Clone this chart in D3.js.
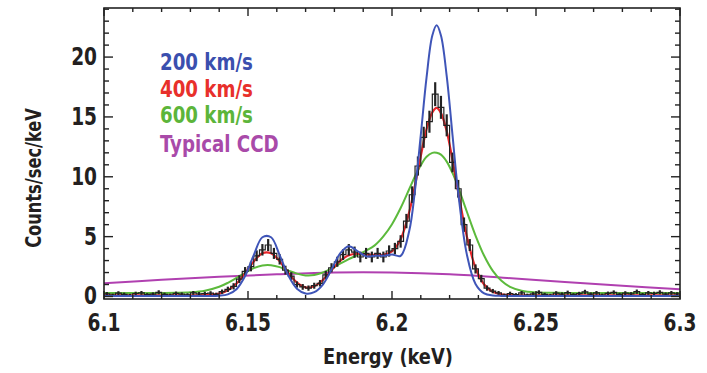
<!DOCTYPE html>
<html>
<head>
<meta charset="utf-8">
<script src="https://cdn.jsdelivr.net/npm/d3@7"></script>
<style>
  body { margin: 0; background: #fff; }
  text { font-family: "Liberation Sans Narrow", "DejaVu Sans Condensed", sans-serif; font-weight: bold; }
</style>
</head>
<body>
<svg id="chart" width="707" height="373"></svg>
<script>
// model curves, sampled on a shared energy grid (keV)
const energyGrid = [6.100, 6.110, 6.120, 6.125, 6.130, 6.135, 6.140, 6.143, 6.146, 6.149,
  6.152, 6.155, 6.158, 6.161, 6.164, 6.167, 6.170, 6.173, 6.176, 6.179,
  6.182, 6.185, 6.188, 6.191, 6.194, 6.197, 6.200, 6.203, 6.206, 6.208,
  6.210, 6.212, 6.214, 6.2155, 6.217, 6.219, 6.221, 6.223, 6.226, 6.229,
  6.232, 6.235, 6.238, 6.241, 6.245, 6.250, 6.260, 6.270, 6.280, 6.300];

const blue200 = [0.05, 0.05, 0.05, 0.05, 0.05, 0.05, 0.07, 0.18, 0.61, 1.71,
  3.45, 4.95, 4.95, 3.45, 1.75, 0.65, 0.25, 0.36, 1.0, 2.25,
  3.6, 4.2, 3.8, 3.35, 3.4, 3.4, 3.5, 3.4, 5.5, 8.9,
  13.5, 18.3, 21.8, 22.65, 21.8, 18.4, 13.5, 8.65, 3.5, 1.05,
  0.26, 0.08, 0.05, 0.05, 0.05, 0.05, 0.05, 0.05, 0.05, 0.05];

const red400 = [0.1, 0.1, 0.1, 0.1, 0.1, 0.11, 0.24, 0.52, 1.08, 1.95,
  2.93, 3.61, 3.61, 2.94, 1.97, 1.16, 0.76, 0.85, 1.38, 2.2,
  2.97, 3.45, 3.57, 3.52, 3.47, 3.49, 3.77, 4.78, 7.07, 9.3,
  11.74, 13.98, 15.38, 15.75, 15.32, 13.8, 11.4, 8.7, 5.0, 2.4,
  1.0, 0.39, 0.18, 0.11, 0.1, 0.1, 0.1, 0.1, 0.1, 0.1];

const green600 = [0.3, 0.3, 0.3, 0.31, 0.35, 0.48, 0.81, 1.14, 1.55, 1.98,
  2.37, 2.59, 2.61, 2.45, 2.16, 1.91, 1.76, 1.79, 2.0, 2.35,
  2.74, 3.12, 3.46, 3.83, 4.27, 5.02, 6.04, 7.39, 8.98, 10.04,
  10.96, 11.67, 12.0, 12.0, 11.85, 11.27, 10.32, 9.12, 7.08, 5.09,
  3.4, 2.14, 1.31, 0.8, 0.48, 0.34, 0.3, 0.3, 0.3, 0.3];

const ccdEnergy = [6.10, 6.12, 6.14, 6.16, 6.18, 6.20, 6.22, 6.24, 6.26, 6.28, 6.30];
const ccdCounts = [1.1, 1.4, 1.65, 1.85, 2.0, 2.0, 1.85, 1.55, 1.2, 0.9, 0.6];

// simulated observation, 2 eV bins starting at 6.100 keV
const binStart = 6.1;
const binWidth = 0.002;
const dataCounts = [0.22, 0.12, 0.28, 0.18, 0.10, 0.25, 0.30, 0.15, 0.20, 0.35,
  0.18, 0.12, 0.26, 0.20, 0.14, 0.30, 0.22, 0.25, 0.28, 0.18,
  0.40, 0.60, 0.85, 1.45, 2.1, 2.5, 3.4, 3.9, 4.3, 3.6,
  3.1, 2.2, 1.7, 1.0, 0.8, 0.7, 0.9, 1.1, 1.8, 2.4,
  2.9, 3.5, 3.9, 3.7, 3.3, 3.6, 3.3, 3.6, 3.3, 3.8,
  4.0, 4.6, 6.3, 8.5, 10.9, 13.3, 14.6, 16.9, 15.8, 14.3,
  11.2, 9.0, 6.0, 4.3, 2.3, 1.5, 0.7, 0.45, 0.3, 0.12,
  0.25, 0.15, 0.3, 0.12, 0.22, 0.35, 0.18, 0.1, 0.28, 0.2,
  0.32, 0.15, 0.24, 0.38, 0.2, 0.3, 0.12, 0.26, 0.34, 0.18,
  0.28, 0.22, 0.4, 0.16, 0.3, 0.25, 0.35, 0.2, 0.3, 0.22];
const dataErr = [0.15, 0.12, 0.16, 0.14, 0.12, 0.15, 0.16, 0.13, 0.14, 0.17,
  0.14, 0.12, 0.15, 0.14, 0.13, 0.16, 0.15, 0.15, 0.16, 0.14,
  0.18, 0.22, 0.26, 0.32, 0.36, 0.4, 0.45, 0.48, 0.5, 0.46,
  0.43, 0.37, 0.33, 0.26, 0.24, 0.22, 0.25, 0.27, 0.34, 0.38,
  0.42, 0.45, 0.48, 0.47, 0.45, 0.46, 0.45, 0.46, 0.45, 0.47,
  0.48, 0.52, 0.6, 0.7, 0.8, 0.88, 0.92, 1.0, 0.96, 0.92,
  0.82, 0.74, 0.6, 0.5, 0.38, 0.31, 0.22, 0.18, 0.16, 0.12,
  0.15, 0.13, 0.16, 0.12, 0.14, 0.17, 0.13, 0.12, 0.16, 0.14,
  0.17, 0.13, 0.15, 0.18, 0.14, 0.16, 0.12, 0.15, 0.17, 0.13,
  0.16, 0.14, 0.18, 0.13, 0.16, 0.15, 0.17, 0.14, 0.16, 0.14];

const xTicks = [6.1, 6.15, 6.2, 6.25, 6.3];
const xTickLabels = ["6.1", "6.15", "6.2", "6.25", "6.3"];
const yTicks = [0, 5, 10, 15, 20];

const legendLabels = ["200 km/s", "400 km/s", "600 km/s", "Typical CCD"];
const legendColors = ["#3b4fae", "#e8302b", "#5cb53a", "#a94aa9"];

const svg = d3.select("#chart");
const plotL = 104, plotR = 680, plotT = 8, plotB = 299;

const x = d3.scaleLinear().domain([6.1, 6.3]).range([plotL, plotR]);
const y = d3.scaleLinear().domain([-0.21, 24.1]).range([plotB, plotT]);

// the original lettering is a condensed face, squeeze ours to match
function squeeze(sel, k) {
  sel.each(function () {
    const w = this.getComputedTextLength();
    d3.select(this).attr("textLength", w * k).attr("lengthAdjust", "spacingAndGlyphs");
  });
}

const plot = svg.append("g");
plot.append("clipPath").attr("id", "clip")
  .append("rect").attr("x", plotL).attr("y", plotT).attr("width", plotR - plotL).attr("height", plotB - plotT);

const curves = plot.append("g").attr("clip-path", "url(#clip)");
const line = d3.line().x(d => x(d[0])).y(d => y(d[1])).curve(d3.curveCatmullRom);

curves.append("path")
  .attr("d", line(ccdEnergy.map((e, i) => [e, ccdCounts[i]])))
  .attr("fill", "none").attr("stroke", "#b040b0").attr("stroke-width", 2);

curves.append("path")
  .attr("d", line(energyGrid.map((e, i) => [e, green600[i]])))
  .attr("fill", "none").attr("stroke", "#5cba3c").attr("stroke-width", 2);

curves.append("path")
  .attr("d", line(energyGrid.map((e, i) => [e, red400[i]])))
  .attr("fill", "none").attr("stroke", "#e8262a").attr("stroke-width", 2.2);

// data: histogram steps plus error bars
const steps = [];
dataCounts.forEach((v, i) => {
  steps.push([binStart + i * binWidth, v]);
  steps.push([binStart + (i + 1) * binWidth, v]);
});
curves.append("path")
  .attr("d", d3.line().x(d => x(d[0])).y(d => y(d[1]))(steps))
  .attr("fill", "none").attr("stroke", "#222").attr("stroke-width", 1.2);

curves.selectAll(".err")
  .data(dataCounts)
  .enter()
  .append("line")
  .attr("class", "err")
  .attr("x1", (d, i) => x(binStart + (i + 0.5) * binWidth))
  .attr("x2", (d, i) => x(binStart + (i + 0.5) * binWidth))
  .attr("y1", (d, i) => y(d - dataErr[i]))
  .attr("y2", (d, i) => y(d + dataErr[i]))
  .attr("stroke", "#222").attr("stroke-width", 2.2);

curves.append("path")
  .attr("d", line(energyGrid.map((e, i) => [e, blue200[i]])))
  .attr("fill", "none").attr("stroke", "#3f55b8").attr("stroke-width", 2);

// frame and inward ticks on all sides
const axes = svg.append("g").attr("stroke", "#222").attr("stroke-width", 1.4);
d3.range(610, 631).map(v => v / 100).forEach(v => {
  const major = Math.abs(Math.round(v * 20) - v * 20) < 1e-6;
  const len = major ? 8 : 4;
  axes.append("line").attr("x1", x(v)).attr("x2", x(v)).attr("y1", plotB).attr("y2", plotB - len);
  axes.append("line").attr("x1", x(v)).attr("x2", x(v)).attr("y1", plotT).attr("y2", plotT + len);
});
d3.range(0, 25).forEach(v => {
  const len = v % 5 === 0 ? 9 : 5;
  axes.append("line").attr("x1", plotL).attr("x2", plotL + len).attr("y1", y(v)).attr("y2", y(v));
  axes.append("line").attr("x1", plotR).attr("x2", plotR - len).attr("y1", y(v)).attr("y2", y(v));
});
axes.append("rect")
  .attr("x", plotL).attr("y", plotT).attr("width", plotR - plotL).attr("height", plotB - plotT)
  .attr("fill", "none").attr("stroke-width", 1.6);

const xLabels = svg.append("g").selectAll("text")
  .data(xTicks)
  .enter()
  .append("text")
  .attr("x", d => x(d))
  .attr("y", 331)
  .attr("text-anchor", "middle")
  .attr("font-size", 24)
  .attr("fill", "#231f20")
  .text((d, i) => xTickLabels[i]);
squeeze(xLabels, 0.86);

const yLabels = svg.append("g").selectAll("text")
  .data(yTicks)
  .enter()
  .append("text")
  .attr("x", 97)
  .attr("y", d => y(d) + 8)
  .attr("text-anchor", "end")
  .attr("font-size", 24)
  .attr("fill", "#231f20")
  .text(d => d);
squeeze(yLabels, 0.86);

const xTitle = svg.append("text")
  .attr("x", 388).attr("y", 364)
  .attr("text-anchor", "middle")
  .attr("font-size", 22)
  .attr("fill", "#231f20")
  .text("Energy (keV)");
squeeze(xTitle, 0.9);

const yTitle = svg.append("text")
  .attr("transform", "translate(41,178) rotate(-90)")
  .attr("text-anchor", "middle")
  .attr("font-size", 22)
  .attr("fill", "#231f20")
  .text("Counts/sec/keV");
squeeze(yTitle, 0.82);

const legend = svg.append("g").selectAll("text")
  .data(legendLabels)
  .enter()
  .append("text")
  .attr("x", 160)
  .attr("y", (d, i) => [70, 97, 123, 152][i])
  .attr("font-size", 23)
  .attr("fill", (d, i) => legendColors[i])
  .text(d => d);
squeeze(legend, 0.88);
</script>
</body>
</html>
